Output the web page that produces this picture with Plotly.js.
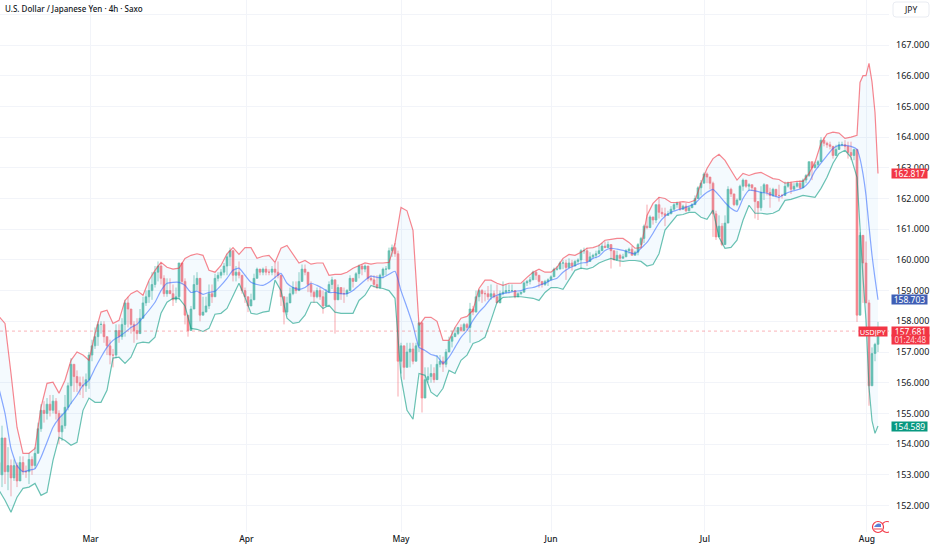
<!DOCTYPE html>
<html><head><meta charset="utf-8">
<script src="https://cdn.plot.ly/plotly-3.0.1.min.js"></script>
<style>html,body{margin:0;padding:0;background:#fff}#c{width:932px;height:550px}</style>
</head><body><div id="c"></div>
<script>
const closes = [
153.0,154.2,153.1,153.3,152.9,153.3,152.8,153.4,153.1,153.1,
153.5,153.3,153.7,154.5,155.1,155.0,155.3,155.1,155.4,155.0,
154.4,154.6,155.2,155.9,156.6,156.2,156.0,155.9,155.9,156.1,
156.9,157.2,157.5,157.9,157.9,157.5,157.2,156.9,156.9,157.7,
157.5,157.9,158.6,158.4,157.9,157.7,157.6,158.1,158.6,158.8,
159.0,159.2,159.6,159.8,159.4,158.9,159.0,158.9,158.7,158.8,
159.9,159.3,158.2,157.7,158.4,159.2,159.4,158.2,158.3,158.5,
158.9,158.8,159.4,159.5,159.6,159.8,160.1,160.3,159.5,159.6,
159.5,159.0,158.8,158.5,158.7,159.4,159.7,159.6,159.7,159.6,
159.6,159.7,159.6,159.5,158.8,158.3,158.6,158.9,159.1,159.0,
159.3,159.7,159.6,159.2,158.95,158.8,159.0,158.8,158.5,158.95,
159.2,159.35,158.7,159.1,158.9,158.9,159.0,159.4,159.3,159.55,
159.8,159.7,159.8,159.4,159.35,159.2,159.1,159.5,159.7,159.7,
160.3,160.4,160.2,156.7,157.2,156.5,157.0,157.1,156.7,157.2,
157.95,155.5,156.1,156.2,156.3,156.1,156.6,156.7,156.6,157.0,
157.35,157.5,157.6,157.8,157.7,157.9,157.8,158.4,158.3,158.8,
159.0,158.9,158.9,158.8,158.9,158.8,158.6,158.9,158.95,159.0,
159.0,159.0,158.8,158.9,158.95,159.25,159.3,159.35,159.6,159.5,
159.3,159.2,159.3,159.35,159.45,159.7,159.7,159.9,159.9,159.75,
159.9,159.8,159.95,160.0,160.3,160.3,159.95,160.1,160.15,160.2,
160.3,160.45,160.4,160.5,160.3,160.0,160.15,160.05,160.1,160.3,
160.35,160.15,160.25,160.5,160.7,161.1,161.05,161.4,161.3,161.8,
161.55,161.5,161.45,161.5,161.65,161.8,161.85,161.65,161.75,161.6,
161.7,161.8,162.0,162.35,162.5,162.8,162.7,162.5,161.5,160.75,
161.1,160.5,161.2,162.3,162.15,161.8,161.95,162.4,162.6,162.4,
162.45,162.35,161.9,161.7,162.2,162.45,162.2,162.1,162.3,162.1,
162.1,162.1,162.4,162.5,162.3,162.4,162.5,162.35,162.6,162.75,
163.2,163.0,163.1,163.2,163.9,163.8,163.75,163.7,163.4,163.6,
163.75,163.75,163.7,163.5,163.4,163.6,158.2,160.8,159.9,158.6,
155.9,156.95,157.25,157.681];
const highs = [
153.9,154.6,154.2,153.9,153.5,153.5,153.4,153.6,153.6,153.3,
153.7,153.6,153.9,154.7,155.3,155.4,155.5,155.6,155.6,155.5,
155.1,155.0,155.6,156.0,156.8,156.6,156.4,156.2,156.2,156.3,
157.0,157.4,157.8,158.0,158.0,158.0,157.5,157.4,157.1,157.9,
157.9,158.1,158.7,158.8,158.4,158.0,158.1,158.4,158.8,159.0,
159.3,159.6,159.8,159.95,159.9,159.5,159.4,159.4,159.2,159.1,
159.9,159.9,159.4,158.0,158.5,159.5,159.6,158.9,158.8,158.8,
159.2,159.2,159.55,159.6,159.7,159.9,160.2,160.4,159.95,159.8,
159.95,159.5,159.1,158.8,158.9,159.55,159.75,159.7,159.75,159.8,
159.7,159.8,159.9,159.95,159.4,158.5,158.8,159.1,159.3,159.3,
159.6,159.85,159.85,159.4,159.3,159.0,159.1,159.1,159.0,159.05,
159.3,159.45,158.7,159.2,159.0,159.1,159.05,159.5,159.4,159.6,
159.85,159.85,159.85,159.6,159.5,159.5,159.5,159.55,159.75,159.8,
160.4,160.5,160.55,160.3,157.3,157.2,157.3,157.3,157.3,157.3,
157.95,157.9,156.5,156.5,156.6,156.5,156.9,156.9,156.85,157.1,
157.5,157.7,157.8,157.8,157.9,157.95,157.95,158.6,158.5,159.0,
159.05,159.05,159.0,159.15,159.2,159.0,159.2,159.0,159.3,159.2,
159.2,159.2,158.95,158.95,158.95,159.3,159.35,159.45,159.65,159.65,
159.5,159.3,159.35,159.4,159.5,159.75,159.8,159.95,160.0,160.0,
160.05,160.0,160.0,160.05,160.35,160.4,160.4,160.25,160.2,160.3,
160.5,160.55,160.6,160.6,160.5,160.3,160.3,160.2,160.2,160.35,
160.4,160.45,160.3,160.55,160.75,161.15,161.8,161.45,161.4,161.8,
162.05,161.7,161.7,161.6,161.75,161.85,161.9,161.9,161.8,161.85,
161.75,161.85,162.1,162.4,162.6,162.85,162.85,162.65,162.55,161.6,
161.45,161.2,161.45,162.4,162.35,162.15,162.0,162.45,162.65,162.5,
162.5,162.45,162.1,161.8,162.4,162.5,162.45,162.35,162.35,162.3,
162.45,162.15,162.55,162.55,162.55,162.5,162.55,162.6,162.65,162.8,
163.2,163.2,163.2,163.25,164.0,164.0,163.85,163.85,163.65,163.75,
163.85,163.85,163.9,163.85,163.85,163.6,163.6,160.9,160.7,160.6,
158.7,157.15,157.3,157.98];
const lows = [
152.8,152.6,152.7,152.5,152.3,152.8,152.6,152.8,153.0,152.9,
152.7,153.0,153.2,153.7,154.4,154.7,154.8,154.9,155.0,154.8,
154.0,154.1,154.5,155.1,155.3,155.7,155.7,155.6,155.5,155.7,
155.8,156.7,157.1,157.2,157.6,157.3,156.9,156.6,156.5,156.8,
157.3,157.4,157.5,157.8,157.6,157.3,157.4,157.8,158.2,158.5,
158.6,158.7,159.1,159.3,159.2,158.8,158.8,158.9,158.5,158.6,
158.7,159.2,157.9,157.5,157.8,158.6,159.0,158.0,158.3,158.3,
158.4,158.6,159.0,159.3,159.4,159.5,159.5,159.8,159.3,159.3,
159.4,158.9,158.6,158.3,158.5,158.9,159.5,159.5,159.5,159.5,
159.5,159.5,159.4,159.4,158.5,157.9,158.2,158.6,158.85,158.9,
159.1,159.55,159.5,158.95,158.8,158.6,158.75,158.7,158.25,158.8,
159.0,159.05,157.6,158.75,158.7,158.6,158.8,159.0,159.1,159.3,
159.4,159.5,159.6,159.3,159.3,159.1,159.05,159.05,159.4,159.5,
159.7,160.1,160.1,155.55,156.3,156.1,156.5,156.5,156.6,157.0,
157.0,155.03,155.6,156.0,156.0,156.0,156.3,156.5,156.35,156.5,
157.0,157.15,157.5,157.55,157.65,157.7,157.7,157.3,158.2,158.35,
158.65,158.6,158.65,158.7,158.7,158.75,158.6,158.75,158.85,158.9,
158.9,158.95,158.75,158.85,158.85,159.0,159.15,159.2,159.4,159.35,
159.1,159.1,159.15,159.15,159.35,159.45,159.65,159.7,159.7,159.35,
159.8,159.65,159.8,159.85,159.7,160.2,159.8,160.0,160.05,160.05,
160.25,160.35,160.4,160.4,159.72,160.0,160.0,159.78,160.05,160.1,
160.2,160.15,160.15,160.15,160.4,160.55,161.0,161.05,161.15,161.2,
161.35,161.4,161.1,161.45,161.55,161.6,161.7,161.6,161.7,161.55,
161.6,161.7,161.8,162.05,162.1,162.5,162.5,162.3,160.75,160.65,
160.9,160.45,161.05,161.45,162.05,161.75,161.75,162.0,162.25,162.35,
162.25,162.25,161.35,161.3,161.6,161.95,162.1,161.7,162.05,162.05,
161.9,162.0,162.25,162.35,162.15,162.35,162.35,162.3,162.5,162.5,
162.7,162.6,163.0,163.0,163.3,163.7,163.65,163.6,163.3,163.5,
163.65,163.7,163.6,163.3,163.25,163.25,157.98,158.2,158.6,158.6,
155.25,156.2,156.7,157.0];

/* Bollinger band readings: every second bar up to bar 286, then every bar */
const upperBand = [
158.16,157.93,156.3,154.55,153.7,153.7,153.86,155.2,155.98,156.02,
155.66,156.08,156.73,157.0,156.9,156.73,157.6,158.3,158.36,157.93,
158.03,158.68,158.9,159.0,158.85,159.34,159.66,159.92,159.76,159.7,
159.73,160.05,160.15,160.2,160.15,159.66,159.6,159.82,160.2,160.4,
160.18,160.4,160.4,160.05,160.12,160.15,159.92,160.38,160.47,160.2,
159.9,159.98,159.86,159.9,159.9,159.5,159.53,159.53,159.6,159.73,
159.82,159.9,159.86,159.9,159.9,159.92,160.54,161.71,161.6,160.96,
157.87,158.13,158.13,158.0,157.38,157.38,157.8,158.1,158.16,158.36,
159.07,159.34,159.34,159.24,159.17,159.24,159.24,159.24,159.43,159.6,
159.7,159.6,159.6,159.76,160.05,160.18,160.15,160.25,160.38,160.4,
160.47,160.64,160.67,160.7,160.7,160.57,160.38,160.4,161.45,161.84,
162.04,162.0,161.87,161.87,161.9,161.87,161.94,162.5,162.98,163.3,
163.44,163.24,162.92,162.6,162.82,162.75,162.82,162.85,162.75,162.65,
162.62,162.5,162.53,162.56,162.56,162.82,163.18,163.8,164.1,164.16,
164.13,163.96,164.0,164.06,
165.78,166.0,166.0,166.4,165.8,164.8,162.817];
const basisBand = [
155.8,155.0,153.86,153.3,153.1,153.15,153.2,153.57,154.06,154.55,
154.84,155.04,155.33,155.6,155.92,156.08,156.47,156.83,157.15,157.38,
157.5,157.64,157.8,157.9,158.13,158.36,158.62,159.0,159.24,159.27,
159.27,159.17,158.94,158.98,158.88,158.94,158.98,159.17,159.4,159.66,
159.73,159.5,159.27,159.2,159.17,159.27,159.43,159.56,159.24,159.1,
159.04,159.1,159.24,159.17,159.07,158.94,158.94,158.9,158.9,159.0,
159.17,159.34,159.47,159.43,159.43,159.53,159.63,159.0,158.45,157.87,
157.15,157.05,156.92,156.86,156.63,156.83,157.15,157.48,157.7,158.03,
158.3,158.5,158.75,158.85,158.9,158.94,158.98,159.0,159.07,159.1,
159.17,159.24,159.34,159.4,159.6,159.73,159.82,159.9,159.92,160.05,
160.12,160.31,160.38,160.35,160.31,160.25,160.2,160.38,160.57,160.87,
161.2,161.42,161.55,161.62,161.68,161.75,161.84,162.04,162.2,162.3,
162.1,161.87,161.68,161.58,162.0,162.27,162.25,162.2,162.17,162.1,
162.04,162.15,162.23,162.28,162.35,162.53,162.9,163.15,163.4,163.63,
163.73,163.73,163.7,163.6,
163.3,162.8,162.1,161.1,160.15,159.4,158.703];
const lowerBand = [
152.5,152.17,151.78,152.27,152.56,152.6,152.72,152.33,152.43,153.47,
154.22,154.12,153.96,154.06,155.1,155.5,155.36,155.36,155.75,156.8,
156.83,156.63,156.83,157.28,157.32,157.3,157.48,158.26,158.62,158.75,
158.75,158.5,157.77,157.74,157.67,157.77,158.23,158.26,158.42,158.85,
159.24,158.78,158.26,158.23,158.3,158.33,159.34,159.0,158.1,157.93,
157.97,158.2,158.62,158.62,158.42,158.52,158.3,158.26,158.26,158.26,
158.68,158.85,159.17,159.1,159.07,159.0,158.75,156.18,155.1,154.81,
156.3,156.24,155.69,155.55,155.82,156.4,156.3,156.73,156.9,157.28,
157.35,157.48,158.03,158.62,158.78,158.8,158.8,158.8,158.78,158.75,
158.68,158.94,159.1,159.1,159.04,159.34,159.66,159.73,159.7,159.76,
159.9,159.98,160.05,159.98,159.95,159.98,159.98,159.95,159.8,159.85,
160.2,160.97,161.23,161.45,161.48,161.55,161.55,161.39,161.32,161.62,
160.74,160.38,160.41,160.64,161.29,161.78,161.52,161.52,161.49,161.52,
161.62,161.94,161.97,162.04,162.1,162.07,162.04,162.33,162.69,163.15,
163.47,163.57,163.34,162.69,
160.97,159.43,158.03,155.85,154.76,154.35,154.589];

const monthBars = [30.5, 82.5, 134, 184, 235.3, 289.3];
const monthLabels = ["Mar","Apr","May","Jun","Jul","Aug"];
const priceTicks = [152,153,154,155,156,157,158,159,160,161,162,163,164,165,166,167,168];
const priceTickLabels = ["152.000","153.000","154.000","155.000","156.000","157.000","158.000","159.000","160.000","161.000","162.000","163.000","164.000","165.000","166.000","167.000",""];
const lastTimer = "01:24:48";

if (closes.length !== highs.length || closes.length !== lows.length) throw new Error("candles " + closes.length + " " + highs.length + " " + lows.length);
const bandBars = [];
for (let i = 0; i <= 286; i += 2) bandBars.push(i);
for (let i = 287; i <= 293; i++) bandBars.push(i);
[upperBand, basisBand, lowerBand].forEach(a => { if (a.length !== bandBars.length) throw new Error("band " + a.length + " vs " + bandBars.length); });

const bars = closes.map((_, i) => i);
const opens = closes.map((c, i) => i ? closes[i - 1] : 153.4);
const last = closes[closes.length - 1];
const F = '"Noto Sans", sans-serif';
const INK = '#131722';
const W = 932, H = 550, MR = 43, MB = 18, PW = W - MR, PH = H - MB;
const px = v => v / PW, py = v => 1 - v / PH;
const rr = (x0, y0, x1, y1, r) => {
  const X = v => px(v), Y = v => py(v);
  return `M${X(x0 + r)},${Y(y0)} L${X(x1 - r)},${Y(y0)} Q${X(x1)},${Y(y0)} ${X(x1)},${Y(y0 + r)} L${X(x1)},${Y(y1 - r)} Q${X(x1)},${Y(y1)} ${X(x1 - r)},${Y(y1)} L${X(x0 + r)},${Y(y1)} Q${X(x0)},${Y(y1)} ${X(x0)},${Y(y1 - r)} L${X(x0)},${Y(y0 + r)} Q${X(x0)},${Y(y0)} ${X(x0 + r)},${Y(y0)} Z`;
};
const shapeP = (path, fill, line, w) => ({type:'path', xref:'paper', yref:'paper', path, fillcolor:fill, line:{color:line, width:w||0}, layer:'above'});
const circ = (cx, cy, r, fill, line, w) => ({type:'circle', xref:'paper', yref:'paper', x0:px(cx-r), x1:px(cx+r), y0:py(cy+r), y1:py(cy-r), fillcolor:fill, line:{color:line, width:w||0}, layer:'above'});

const traces = [
  {type:'scatter', mode:'lines', x:bandBars, y:upperBand, line:{width:0, color:'rgba(0,0,0,0)'}, hoverinfo:'skip', showlegend:false},
  {type:'scatter', mode:'lines', x:bandBars, y:lowerBand, line:{width:0, color:'rgba(0,0,0,0)'}, fill:'tonexty', fillcolor:'rgba(33,150,243,0.05)', hoverinfo:'skip', showlegend:false},
  {type:'candlestick', x:bars, open:opens, high:highs, low:lows, close:closes, whiskerwidth:0, opacity:0.62,
   increasing:{line:{color:'#089981', width:0.7}, fillcolor:'#089981'},
   decreasing:{line:{color:'#f23645', width:0.7}, fillcolor:'#f23645'}, hoverinfo:'skip', showlegend:false},
  {type:'scatter', mode:'lines', line:{shape:'spline', smoothing:0.5, width:1.2, color:'rgba(41,98,255,0.55)'}, x:bandBars, y:basisBand, hoverinfo:'skip', showlegend:false},
  {type:'scatter', mode:'lines', line:{width:1.2, color:'rgba(242,54,69,0.6)'}, x:bandBars, y:upperBand, hoverinfo:'skip', showlegend:false},
  {type:'scatter', mode:'lines', line:{width:1.2, color:'rgba(8,153,129,0.6)'}, x:bandBars, y:lowerBand, hoverinfo:'skip', showlegend:false}
];

const flag = (val, bg, text, extra) => Object.assign({
  xref:'paper', yref:'y', x:1, y:val, xshift:2, xanchor:'left', yanchor:'middle', text,
  showarrow:false, bgcolor:bg, borderpad:0, width:35, height:9, align:'center',
  font:{family:F, size:8.5, color:'#fff'}
}, extra || {});

const layout = {
  width:W, height:H, paper_bgcolor:'#fff', plot_bgcolor:'#fff', showlegend:false, boxgap:0.12,
  margin:{l:0, r:MR, t:0, b:MB, pad:0},
  title:{text:'U.S. Dollar / Japanese Yen · 4h · Saxo', x:5/W, xref:'container', xanchor:'left', y:1-9/H, yref:'container', yanchor:'middle', font:{family:F, size:8, color:INK, weight:500}},
  xaxis:{range:[1/3, (PW+1)/3], type:'linear', rangeslider:{visible:false}, tickmode:'array', tickvals:monthBars, ticktext:monthLabels,
    showgrid:true, gridcolor:'#f2f4f9', gridwidth:1, zeroline:false, showline:false, ticks:'', tickfont:{family:F, size:8.5, color:INK, weight:500}},
  yaxis:{side:'right', range:[151.137, 168.466], tickmode:'array', tickvals:priceTicks, ticktext:priceTickLabels,
    showgrid:true, gridcolor:'#f2f4f9', gridwidth:1, zeroline:false, showline:false, ticks:'', ticklabelstandoff:6, tickfont:{family:F, size:9, color:INK}},
  shapes:[
    {type:'line', xref:'paper', yref:'y', x0:0, x1:1, y0:last, y1:last, line:{color:'rgba(242,54,69,0.55)', width:0.7, dash:'dot'}, layer:'above'},
    shapeP(rr(893, 2, 929, 17, 3), '#fff', '#e9ecf2', 1),
    circ(887, 527, 5.5, '#fff', '#f23645', 1.2),
    shapeP(`M${px(889)},${py(519)} L${px(896)},${py(519)} L${px(896)},${py(534)} L${px(889)},${py(534)} Z`, '#fff', '#fff', 0),
    circ(878, 527, 5.5, '#fff', '#f23645', 1.2),
    shapeP(`M${px(874)},${py(527)} Q${px(877)},${py(522)} ${px(881)},${py(524)} L${px(881)},${py(527)} Z`, '#5b7fd6', '#5b7fd6', 0),
    shapeP(`M${px(873)},${py(528)} L${px(883)},${py(528)} L${px(882)},${py(530)} L${px(874)},${py(530)} Z`, '#f6a0a8', '#f6a0a8', 0)
  ],
  annotations:[
    {xref:'paper', yref:'paper', x:px(911), y:py(9.5), text:'JPY', showarrow:false, xanchor:'center', yanchor:'middle', font:{family:F, size:8.5, color:INK}},
    flag(upperBand[upperBand.length-1], '#f23645', upperBand[upperBand.length-1].toFixed(3)),
    flag(basisBand[basisBand.length-1], '#3f5fb5', basisBand[basisBand.length-1].toFixed(3)),
    flag(lowerBand[lowerBand.length-1], '#089981', lowerBand[lowerBand.length-1].toFixed(3)),
    {xref:'paper', yref:'y', x:1, y:last, xshift:-1, xanchor:'right', yanchor:'middle', text:'USDJPY', showarrow:false, bgcolor:'#f23645', borderpad:0, width:28, height:9, font:{family:F, size:7.5, color:'#fff'}},
    flag(last, '#f23645', last.toFixed(3), {width:37, yshift:0}),
    flag(last, '#f23645', lastTimer, {width:37, yshift:-8.5, font:{family:F, size:8, color:'#ffd5d9'}})
  ]
};
Plotly.newPlot('c', traces, layout, {displayModeBar:false, staticPlot:true});
</script></body></html>
